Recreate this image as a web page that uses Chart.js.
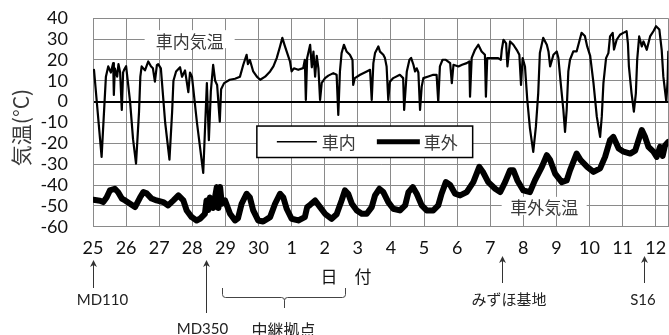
<!DOCTYPE html>
<html>
<head>
<meta charset="utf-8">
<script src="https://cdn.jsdelivr.net/npm/chart.js@4.4.1/dist/chart.umd.min.js"></script>
<style>
  html, body { margin: 0; padding: 0; background: #fff; }
  #wrap { position: relative; width: 669px; height: 335px; }
</style>
</head>
<body>
<div id="wrap"><canvas id="c"></canvas></div>
<script>
// Day labels along the x axis (one per calendar day, 25th → 12th)
const dayLabels = ['25','26','27','28','29','30','1','2','3','4','5','6','7','8','9','10','11','12'];

// Temperature inside the vehicle (°C); position in days since the 25th
const insideDays = [
  0.03,0.26,0.39,0.46,0.54,0.61,0.63,0.66,0.73,0.77,0.82,0.87,0.91,0.94,1.00,1.12,1.21,1.30,1.39,1.43,
  1.47,1.57,1.67,1.75,1.81,1.87,1.93,1.97,2.05,2.18,2.31,2.39,2.43,2.51,2.63,2.69,2.78,2.88,2.93,2.99,
  3.14,3.33,3.44,3.50,3.56,3.63,3.69,3.75,3.83,3.87,3.96,4.13,4.29,4.44,4.54,4.64,4.68,4.74,4.84,4.95,
  5.05,5.20,5.35,5.45,5.55,5.65,5.72,5.79,5.85,5.95,6.00,6.07,6.20,6.35,6.40,6.43,6.47,6.56,6.61,6.66,
  6.71,6.76,6.81,6.86,6.91,7.01,7.11,7.26,7.36,7.41,7.46,7.51,7.58,7.66,7.76,7.84,7.86,7.91,8.07,8.27,
  8.37,8.42,8.47,8.52,8.62,8.67,8.77,8.82,8.87,8.92,8.97,9.07,9.27,9.37,9.40,9.48,9.56,9.61,9.68,9.73,
  9.78,9.83,9.88,9.93,9.98,10.13,10.28,10.38,10.43,10.48,10.56,10.66,10.79,10.84,10.89,11.04,11.15,11.29,11.37,11.39,
  11.44,11.54,11.64,11.74,11.84,11.87,11.91,12.09,12.24,12.32,12.35,12.40,12.48,12.52,12.60,12.70,12.80,12.88,12.93,12.98,
  13.05,13.12,13.20,13.30,13.38,13.45,13.50,13.60,13.71,13.76,13.81,13.91,14.01,14.06,14.13,14.21,14.26,14.31,14.36,14.41,
  14.51,14.61,14.69,14.76,14.86,14.93,15.02,15.12,15.22,15.32,15.37,15.42,15.50,15.57,15.62,15.70,15.74,15.82,15.92,16.02,
  16.12,16.16,16.19,16.27,16.34,16.40,16.44,16.50,16.58,16.63,16.73,16.83,16.93,17.01,17.11,17.18,17.23,17.32,17.36,17.38
];
const insideTemps = [
  15.3,-26.5,12,16.9,14,18.5,3.2,16,12,18,14,-4,14,15.3,17,0,-18,-29.7,-5,12,
  16.9,15,19.3,17,16,9.6,17.5,18,16,-10,-27.8,-5,10,14.5,16.5,12,15,4.6,14,12,
  -10,-34.2,8.9,-18.5,5,17.7,10,8,-9.6,6,8.9,10.5,11,12,17.7,22.5,18,20,14.5,12,
  10.5,12,14.5,16.9,20.9,26.5,30.6,27,24.1,19.3,14.5,16,15.3,16.1,20.1,0.8,21,27.3,16.5,24,
  12,22,16,0.8,9,11.3,12.5,13.7,12.9,-6.4,14.5,23.3,27.3,24.1,22.5,20,8,11.3,12.9,14.5,
  15.3,0.8,18.5,23.3,26.5,24,22.5,20.9,16.9,0.8,9.6,11.3,12.9,11.3,-4,14.5,20.1,21,17.7,14.5,
  16,14,-4,7.2,11.3,12.1,12.9,12.9,0,16.9,20.1,20.1,18.5,8.9,17.7,16.9,17.7,18.5,19.3,2.4,
  21,24.9,27.3,24.1,22.5,2.4,20.9,20.9,20.9,20.1,25,29.7,28,16.9,28.9,27.3,24.9,22.5,8,20.9,
  16.9,0.8,-12.8,-24.1,-12,4,23.3,30.6,27.3,24.1,16.9,22.5,24.1,20.9,8.9,-4,-14.5,-4,14.5,20.1,
  24.1,24.1,28.9,33,31.5,26.5,22,8.9,-7.2,-16.9,-7.2,8.9,20.9,23.3,31.3,33,25,29.7,32.1,33,
  33.8,28,16.9,4,-4.8,4,20.1,31.3,26.5,28.9,24.9,31.3,33.8,36.2,34.6,24.9,12,0,10.5,24
];

// Outside air temperature (°C)
const outsideDays = [
  0.01,0.21,0.31,0.41,0.51,0.66,0.76,0.87,0.97,1.12,1.27,1.42,1.52,1.62,1.77,1.92,2.12,2.27,2.43,2.58,
  2.73,2.83,2.98,3.13,3.23,3.38,3.43,3.48,3.53,3.63,3.74,3.79,3.84,3.89,3.99,4.14,4.29,4.38,4.49,4.64,
  4.74,4.84,4.99,5.14,5.35,5.50,5.65,5.75,5.85,6.00,6.20,6.40,6.47,6.56,6.71,6.86,7.01,7.21,7.36,7.51,
  7.61,7.71,7.82,7.97,8.12,8.27,8.42,8.52,8.65,8.77,8.92,9.07,9.27,9.43,9.53,9.66,9.78,9.93,10.08,10.28,
  10.43,10.53,10.66,10.79,10.94,11.09,11.29,11.49,11.67,11.79,11.94,12.15,12.30,12.45,12.60,12.70,12.82,13.00,13.20,13.35,
  13.56,13.71,13.81,13.96,14.16,14.31,14.41,14.61,14.73,14.93,15.12,15.32,15.47,15.62,15.72,15.88,16.03,16.23,16.38,16.48,
  16.58,16.68,16.78,16.93,17.03,17.13,17.21,17.28,17.38
];
const outsideTemps = [
  -47.1,-47.5,-48.2,-46,-42.6,-41.8,-43.5,-46.5,-47.4,-49,-50.6,-46,-43.4,-44,-46.5,-47.4,-48.2,-49.8,-47.4,-45,
  -47.4,-52.2,-55.4,-57,-56.2,-53.8,-47.4,-52,-46,-51,-41,-51,-41,-49,-47.4,-53.8,-57,-56,-49,-44.2,
  -46,-52.2,-57,-57.5,-55.4,-49,-44.2,-46,-51.4,-56.2,-57,-55.4,-50.6,-49.5,-47.4,-50.6,-53.8,-56.2,-54,-47.4,
  -42.6,-44.2,-49,-52.2,-53.8,-53.8,-50.6,-45,-41.8,-43.4,-48.2,-51.4,-52.2,-49.8,-43.4,-41,-44.2,-49.8,-52.2,-52.2,
  -49.8,-44.2,-38.6,-40,-44.2,-45,-43.4,-38.6,-31.3,-34,-38.6,-41.8,-43.4,-38.6,-32.9,-32.9,-37.8,-42.6,-43.4,-37.8,
  -31.3,-25.7,-28,-34.5,-38.6,-37.8,-33,-24.9,-28,-31.3,-33.7,-32,-26.5,-18.5,-16.9,-22.5,-24,-24.9,-23.5,-18.5,
  -13.6,-17,-21.7,-24,-26.5,-21.7,-26,-21,-19.3
];

const seriesNames = ['車内', '車外'];

// Stations passed on the traverse (day of passage)
const stationNames = ['MD110', 'MD350', 'みずほ基地', 'S16'];
const stationDays = [0, 3.4, 12.35, 16.65];
const relayName = '中継拠点';
const relaySpan = [3.9, 7.6];

const FONT = "Lato, 'Noto Sans CJK JP', sans-serif";
const JP = "'Noto Sans CJK JP', Lato, sans-serif";

const toPoints = (xs, ys) => xs.map((d, i) => ({ x: d, y: ys[i] }));

const decorations = {
  id: 'decorations',
  afterDatasetsDraw(chart) {
    const { ctx, scales: { x, y } } = chart;
    ctx.save();

    // in-plot captions sitting on a gridline
    const caption = (text, day, val, halfW) => {
      const cx = x.getPixelForValue(day), cy = y.getPixelForValue(val);
      ctx.fillStyle = '#fff';
      ctx.fillRect(cx - halfW, cy - 9, halfW * 2, 18);
      ctx.fillStyle = '#3a3a3a';
      ctx.font = `17px ${JP}`;
      ctx.textAlign = 'center';
      ctx.textBaseline = 'middle';
      ctx.fillText(text, cx, cy + 2);
    };
    caption('車内気温', 2.92, 30, 45);
    caption('車外気温', 13.63, -50, 42.5);

    // legend box
    const lx0 = x.getPixelForValue(4.95), lx1 = x.getPixelForValue(11.47);
    const ly0 = y.getPixelForValue(-11.7), ly1 = y.getPixelForValue(-26.8);
    ctx.fillStyle = '#fff';
    ctx.fillRect(lx0, ly0, lx1 - lx0, ly1 - ly0);
    ctx.strokeStyle = '#000';
    ctx.lineWidth = 1.5;
    ctx.strokeRect(lx0, ly0, lx1 - lx0, ly1 - ly0);
    const ly = (ly0 + ly1) / 2;
    const ds = chart.data.datasets;
    const entries = [
      { x0: lx0 + 20, x1: lx0 + 60, tx: lx0 + 65, ds: ds[0] },
      { x0: lx0 + 120, x1: lx0 + 163, tx: lx0 + 167, ds: ds[1] }
    ];
    ctx.font = `17px ${JP}`;
    ctx.textAlign = 'left';
    ctx.textBaseline = 'middle';
    entries.forEach(e => {
      ctx.strokeStyle = e.ds.borderColor;
      ctx.lineWidth = e.ds === ds[0] ? 1.5 : 5;
      ctx.beginPath();
      ctx.moveTo(e.x0, ly);
      ctx.lineTo(e.x1, ly);
      ctx.stroke();
      ctx.fillStyle = '#3a3a3a';
      ctx.fillText(e.ds.label, e.tx, ly + 1);
    });
    ctx.restore();
  },
  afterDraw(chart) {
    const { ctx, scales: { x } } = chart;
    ctx.save();

    // y axis title
    ctx.save();
    ctx.translate(21, 127.5);
    ctx.rotate(-Math.PI / 2);
    ctx.font = `21px ${JP}`;
    ctx.fillStyle = '#3a3a3a';
    ctx.textAlign = 'center';
    ctx.textBaseline = 'middle';
    ctx.fillText('気温(°C)', 0, 0);
    ctx.restore();

    // x axis title
    ctx.font = `17px ${JP}`;
    ctx.fillStyle = '#111';
    ctx.textAlign = 'center';
    ctx.textBaseline = 'middle';
    ctx.fillText('日　付', 346, 277);

    // station arrows
    const layout = [
      { tip: 260, tail: 288, ty: 300.5, dx: 9 },
      { tip: 260, tail: 313, ty: 329, dx: -4 },
      { tip: 256, tail: 283, ty: 300.5, dx: 6.5 },
      { tip: 256, tail: 283, ty: 300.5, dx: -1.5 }
    ];
    ctx.strokeStyle = '#333';
    ctx.fillStyle = '#333';
    ctx.lineWidth = 1;
    stationNames.forEach((name, i) => {
      const px = Math.round(x.getPixelForValue(stationDays[i])) + 0.5;
      const l = layout[i];
      ctx.beginPath();
      ctx.moveTo(px, l.tail);
      ctx.lineTo(px, l.tip + 2);
      ctx.stroke();
      ctx.beginPath();
      ctx.moveTo(px, l.tip);
      ctx.lineTo(px - 3.5, l.tip + 7);
      ctx.lineTo(px, l.tip + 5);
      ctx.lineTo(px + 3.5, l.tip + 7);
      ctx.closePath();
      ctx.fill();
      ctx.font = `15px ${FONT}`;
      ctx.fillStyle = '#222';
      ctx.fillText(name, px + l.dx, l.ty);
      ctx.fillStyle = '#333';
    });

    // brace under the relay-depot period
    const bx0 = Math.round(x.getPixelForValue(relaySpan[0])) + 0.5;
    const bx1 = Math.round(x.getPixelForValue(relaySpan[1])) + 0.5;
    const bm = Math.round((bx0 + bx1) / 2) + 0.5;
    const top = 288, mid = 297.5, bot = 308;
    ctx.strokeStyle = '#444';
    ctx.beginPath();
    ctx.moveTo(bx0, top);
    ctx.lineTo(bx0, mid - 3);
    ctx.quadraticCurveTo(bx0, mid, bx0 + 3, mid);
    ctx.lineTo(bm - 3, mid);
    ctx.quadraticCurveTo(bm, mid, bm, mid + 3);
    ctx.lineTo(bm, bot);
    ctx.moveTo(bm, mid + 3);
    ctx.quadraticCurveTo(bm, mid, bm + 3, mid);
    ctx.lineTo(bx1 - 3, mid);
    ctx.quadraticCurveTo(bx1, mid, bx1, mid - 3);
    ctx.lineTo(bx1, top);
    ctx.stroke();
    ctx.font = `16px ${JP}`;
    ctx.fillStyle = '#222';
    ctx.fillText(relayName, bm - 1, 330);

    ctx.restore();
  }
};

new Chart(document.getElementById('c'), {
  type: 'line',
  data: {
    datasets: [
      {
        label: seriesNames[0],
        data: toPoints(insideDays, insideTemps),
        borderColor: '#000',
        borderWidth: 2.2,
        borderJoinStyle: 'round',
        borderCapStyle: 'round',
        pointRadius: 0,
        tension: 0,
        fill: false
      },
      {
        label: seriesNames[1],
        data: toPoints(outsideDays, outsideTemps),
        borderColor: '#000',
        borderWidth: 6,
        borderJoinStyle: 'round',
        borderCapStyle: 'round',
        pointRadius: 0,
        tension: 0,
        fill: false
      }
    ]
  },
  options: {
    responsive: true,
    maintainAspectRatio: false,
    animation: false,
    events: [],
    layout: { padding: { top: 18.3, right: 0.7, bottom: 0, left: 0 } },
    plugins: { legend: { display: false }, tooltip: { enabled: false } },
    scales: {
      x: {
        type: 'linear',
        min: 0,
        max: 17.38,
        afterFit: s => {
          s.height = 108.3;
          s.paddingLeft = 0;
          s.paddingRight = 0;
        },
        afterBuildTicks: s => {
          s.ticks = dayLabels.map((_, i) => ({ value: i })).concat([{ value: 17.38 }]);
        },
        ticks: {
          autoSkip: false,
          maxRotation: 0,
          minRotation: 0,
          padding: 11,
          color: '#111',
          font: { family: FONT, size: 18 },
          callback: v => Number.isInteger(v) ? dayLabels[v] : ''
        },
        grid: { color: '#8a8a8a', lineWidth: 1, drawTicks: false },
        border: { display: true, color: '#8a8a8a' }
      },
      y: {
        min: -60,
        max: 40,
        afterFit: s => {
          s.width = 93;
          s.paddingTop = 0;
          s.paddingBottom = 0;
        },
        afterBuildTicks: s => {
          const t = [];
          for (let v = -60; v <= 40; v += 10) t.push({ value: v });
          s.ticks = t;
        },
        ticks: {
          autoSkip: false,
          padding: 25,
          color: '#111',
          font: { family: FONT, size: 18 }
        },
        grid: {
          drawTicks: false,
          color: c => (c.tick && c.tick.value === 0) ? '#000' : '#8a8a8a',
          lineWidth: c => (c.tick && c.tick.value === 0) ? 2 : 1
        },
        border: { display: true, color: '#8a8a8a' }
      }
    }
  },
  plugins: [decorations]
});
</script>
</body>
</html>
